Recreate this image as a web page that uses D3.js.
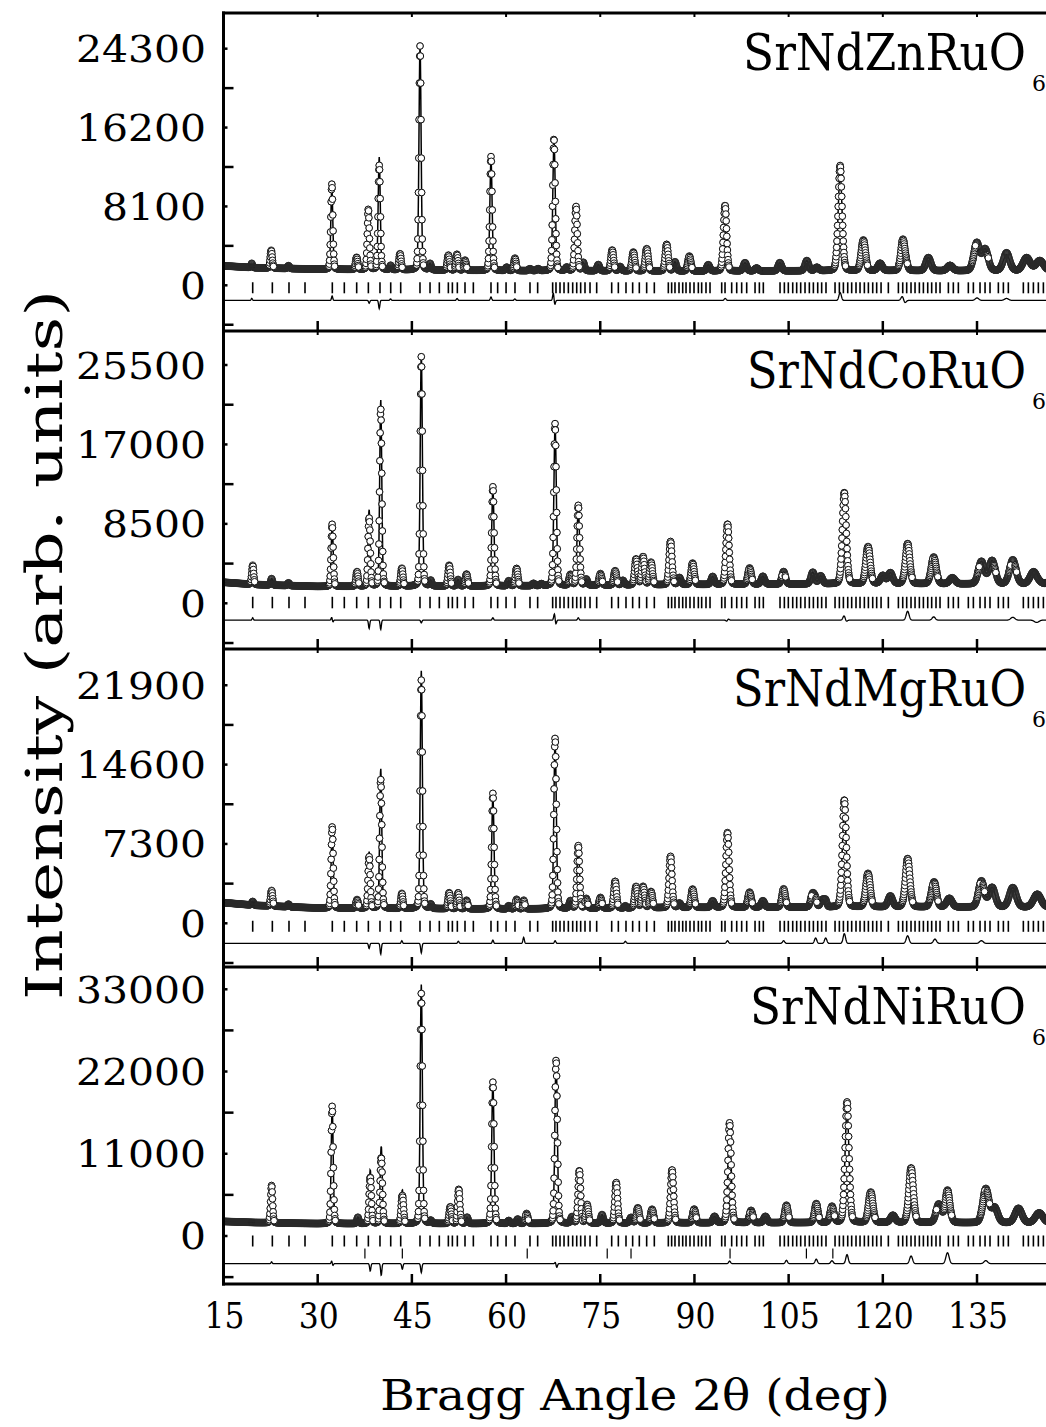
<!DOCTYPE html>
<html><head><meta charset="utf-8">
<script src="https://cdn.jsdelivr.net/npm/d3@7"></script>
<style>body{margin:0;background:#fff}svg{display:block}</style>
</head><body>
<svg id="chart" width="1046" height="1427"></svg>
<script>
// ================= DATA =================
const compounds = ["SrNdZnRuO", "SrNdCoRuO", "SrNdMgRuO", "SrNdNiRuO"];
const subscript = "6";
const xTickValues = [15, 30, 45, 60, 75, 90, 105, 120, 135, 150];
const xDomain = [15, 150];
const yDomains = [[-4693, 27965], [-4890, 29139], [-4020, 25235], [-6421, 35982]];
const yTickSteps = [4050, 4250, 3650, 5500];
const yLabelValues = [
  [0, 8100, 16200, 24300],
  [0, 8500, 17000, 25500],
  [0, 7300, 14600, 21900],
  [0, 11000, 22000, 33000]
];
// background levels [2theta, counts]
const bgZn = [[15,2000],[20,1800],[30,1650],[60,1500],[90,1450],[120,1500],[150,1450]];
const bgCo = [[15,2250],[20,2000],[30,1800],[60,1850],[90,2000],[120,2100],[150,2000]];
const bgMg = [[15,1900],[20,1650],[30,1400],[60,1300],[90,1450],[120,1500],[150,1450]];
const bgNi = [[15,1950],[20,1800],[30,1650],[60,1650],[90,1750],[120,1800],[150,1700]];
// calculated reflections [2theta, height above background]
const peaksZn = [[19.5,250],[22.6,1850],[25.35,300],[32.25,8350],[36.2,1250],[38.07,6300],[39.8,11550],[41.63,300],[43.11,1650],[46.3,23000],[47.9,650],[50.81,1550],[52.18,1450],[53.46,1050],[57.6,11350],[60.1,350],[61.42,1150],[63.81,200],[65.1,200],[67.64,13300],[69.66,350],[71.14,6600],[72.3,850],[74.69,650],[76.9,2150],[78.15,450],[80.27,1950],[82.4,2300],[85.58,2750],[86.9,950],[89.19,1550],[92.2,650],[94.87,6550],[98.05,850],[99.9,300],[103.6,850],[107.9,1050],[109.5,350],[113.2,10000],[116.9,3150],[119.56,750],[123.27,3000],[127.25,1350],[130.7,550],[134.95,2600],[136.3,2200],[139.7,1650],[142.9,1350],[145.0,1050],[148.0,900]];
const peaksCo = [[19.65,1825],[22.66,705],[25.35,300],[32.31,6500],[36.26,1570],[38.19,8180],[40.04,19950],[43.4,1925],[46.5,24850],[48.0,600],[50.94,2245],[52.36,700],[53.7,1285],[57.9,10365],[60.43,550],[61.68,1875],[64.37,250],[65.63,200],[67.81,17100],[70.25,1150],[71.5,8300],[72.77,650],[75.03,1250],[77.37,1550],[78.6,500],[80.7,2785],[81.82,3005],[83.08,2425],[86.19,4625],[87.61,750],[89.71,2305],[92.9,850],[95.26,6465],[98.78,1750],[100.9,850],[104.2,1350],[108.85,1250],[110.1,850],[113.87,9325],[117.64,3965],[120.0,850],[121.2,1150],[123.95,3345],[128.1,2525],[131.07,650],[135.7,2400],[137.4,2500],[140.7,2300],[144.1,1450],[147.5,1200]];
const peaksMg = [[19.65,350],[22.66,1450],[25.35,250],[32.31,7480],[36.26,800],[38.19,5200],[40.04,12860],[43.4,1140],[46.5,21890],[48.0,400],[50.94,1480],[52.36,1280],[53.7,800],[57.9,10340],[60.43,300],[61.68,900],[62.9,300],[67.81,15430],[70.25,700],[71.5,5770],[72.77,900],[75.03,1000],[77.37,2470],[80.7,1980],[81.82,1980],[83.08,1500],[86.19,4720],[87.61,400],[89.71,1700],[92.9,600],[95.26,6630],[98.78,1400],[100.9,600],[104.2,1450],[108.85,1300],[110.4,700],[113.87,8950],[117.64,3090],[121.2,1000],[123.95,3760],[128.1,2000],[130.6,800],[135.7,2150],[137.4,1800],[140.7,1800],[144.6,1200],[148.0,900]];
const peaksNi = [[22.66,4750],[32.31,15540],[36.4,850],[38.37,7180],[40.12,10390],[43.48,4500],[46.5,31980],[48.0,400],[51.11,2250],[52.46,4570],[53.8,850],[57.9,18920],[60.43,400],[61.85,600],[63.27,1350],[67.97,22050],[70.5,850],[71.67,7020],[72.9,2500],[75.28,1150],[77.54,5430],[79.9,750],[80.98,2050],[83.25,1850],[86.43,7100],[89.96,1850],[93.2,850],[95.59,13030],[99.02,1650],[101.3,850],[104.65,1900],[109.4,1950],[111.9,1750],[114.3,14920],[118.07,4060],[121.6,950],[124.5,6290],[128.9,2450],[130.3,2860],[136.4,4130],[137.8,2000],[141.6,1950],[144.9,1350],[148.0,1000]];
// observed minus calculated features [2theta, counts]
const diffZn = [[19.5,200],[32.3,450],[38.2,-300],[39.8,-850],[41.6,150],[52.2,200],[57.6,350],[61.4,150],[67.55,900],[67.72,-600],[94.9,200],[113.2,800],[123.15,500],[123.45,-350],[135.0,250],[139.7,200]];
const diffCo = [[19.65,250],[32.25,350],[32.4,-250],[38.19,-900],[40.04,-1000],[46.5,-300],[57.9,250],[67.72,800],[67.9,-550],[71.5,250],[95.2,-200],[95.35,200],[113.87,550],[114.1,-250],[123.95,950],[128.1,350],[140.7,300],[144.5,-250]];
const diffMg = [[38.19,-470],[40.04,-1000],[43.4,250],[46.5,-870],[52.4,200],[57.9,300],[62.8,550],[67.81,250],[79.0,200],[95.26,250],[104.2,250],[109.3,500],[110.9,500],[113.87,900],[123.95,700],[128.3,400],[135.7,250]];
const diffNi = [[22.66,250],[32.25,400],[32.4,-300],[38.37,-1000],[40.12,-1580],[43.48,-760],[46.5,-1200],[67.9,300],[68.05,-600],[95.6,350],[104.65,450],[109.4,600],[111.9,400],[114.3,1200],[124.5,1030],[130.3,1470],[136.4,400]];
const diffOffsets = [-1550, -1800, -1850, -3700];
// Bragg reflection positions (main phase, all panels) and second phase (Ni panel)
const braggMain = [19.65,22.78,25.43,27.98,32.33,34.24,36.21,38.07,39.92,41.63,43.22,46.29,47.89,49.37,50.81,51.45,52.24,53.46,54.79,57.6,58.66,60.0,61.42,63.81,65.03,67.42,67.95,68.59,69.23,69.92,70.61,71.25,71.88,72.57,73.37,74.43,76.82,77.88,79.1,80.16,81.22,82.39,83.61,85.84,86.37,86.9,87.54,88.13,88.66,89.29,89.93,90.62,91.15,91.84,92.48,94.34,94.87,95.93,96.73,97.52,98.32,99.65,100.34,100.97,103.63,104.32,104.95,105.65,106.28,106.92,107.61,108.3,108.94,109.63,110.26,110.95,112.39,113.08,113.72,114.41,115.04,115.73,116.37,117.06,117.7,118.39,119.02,119.72,120.88,122.48,123.17,123.8,124.49,125.13,125.82,126.46,127.15,127.78,128.47,129.11,130.44,131.23,132.03,133.62,134.42,135.48,136.28,137.07,138.4,139.2,139.99,142.38,143.18,143.98,144.77,145.57];
const braggSecond = [37.52,43.48,63.37,76.11,79.9,95.67,107.83,112.04];
// instrument resolution (Caglioti) and profile mixing, estimated from peak widths
const U = 0.19, V = 0.0, Wc = 0.125, eta = 0.15, stepDeg = 0.05;

const panels = [
  {name: compounds[0], bg: bgZn, peaks: peaksZn, diff: diffZn},
  {name: compounds[1], bg: bgCo, peaks: peaksCo, diff: diffCo},
  {name: compounds[2], bg: bgMg, peaks: peaksMg, diff: diffMg},
  {name: compounds[3], bg: bgNi, peaks: peaksNi, diff: diffNi, second: braggSecond}
];

// ================= LAYOUT =================
const svg = d3.select("#chart");
const FONT = "'DejaVu Serif', serif";
const xLeft = 223.5;
const x = d3.scaleLinear().domain(xDomain).range([xLeft, 1071.2]);
const tops = [13, 331, 649, 967], bottoms = [331, 649, 967, 1284];
const tickRows = [[-3, 8], [-6.5, 5], [-2.5, 8.5], [-0.5, 10.5]];
const secondRow = [12.5, 22.5];

// horizontally scale a text so that its drawn width equals w (anchor kept fixed)
function fit(sel, w, ax, ay, rot) {
  sel.each(function() {
    const L = this.getComputedTextLength();
    const s = w / L;
    const r = rot ? ` rotate(${rot})` : "";
    d3.select(this).attr("x", 0).attr("y", 0)
      .attr("transform", `translate(${ax(this)},${ay(this)})${r} scale(${s},1)`);
  });
}

function fwhm(tt) { const t = Math.tan(tt / 2 * Math.PI / 180); return Math.sqrt(U * t * t + V * t + Wc); }
function pv(xx, c, h, w) { const d = (xx - c) / w; return h * ((1 - eta) * Math.exp(-4 * Math.LN2 * d * d) + eta / (1 + 4 * d * d)); }
function gauss(xx, c, h, w) { const d = (xx - c) / w; return h * Math.exp(-4 * Math.LN2 * d * d); }

const grid = d3.range(xDomain[0], xDomain[1] + 1e-9, stepDeg);

panels.forEach((p, i) => {
  const top = tops[i], bottom = bottoms[i];
  const y = d3.scaleLinear().domain(yDomains[i]).range([bottom, top]);
  const bgScale = d3.scaleLinear().domain(p.bg.map(d => d[0])).range(p.bg.map(d => d[1]));
  const rows = grid.map(t => {
    let calc = bgScale(t);
    p.peaks.forEach(([c, h]) => { calc += pv(t, c, h, fwhm(c)); });
    let dif = 0;
    p.diff.forEach(([c, h]) => { dif += gauss(t, c, h, 0.6 * fwhm(c)); });
    return {t, calc, obs: calc + dif, dif};
  });

  const g = svg.append("g");
  const clipId = "clip" + i;
  svg.append("clipPath").attr("id", clipId).append("rect")
    .attr("x", xLeft).attr("y", top).attr("width", 1046 - xLeft).attr("height", bottom - top);
  const plot = g.append("g").attr("clip-path", `url(#${clipId})`);

  // calculated profile
  plot.append("path").datum(rows)
    .attr("d", d3.line().x(d => x(d.t)).y(d => y(d.calc)))
    .attr("fill", "none").attr("stroke", "#000").attr("stroke-width", 1.5);

  // observed points: rings
  const py = rows.map(d => y(d.obs));
  plot.append("g").selectAll("circle").data(rows).join("circle")
    .attr("cx", d => x(d.t)).attr("cy", d => y(d.obs)).attr("r", 3.3)
    .attr("fill", "none").attr("stroke", "#2a2a2a").attr("stroke-width", 0.8);
  // observed points on steep flanks: open white circles
  const steep = rows.filter((d, k) => {
    const a = k > 0 ? Math.abs(py[k] - py[k - 1]) : 0;
    const b = k < py.length - 1 ? Math.abs(py[k] - py[k + 1]) : 0;
    return Math.max(a, b) > 1.3;
  });
  plot.append("g").selectAll("circle").data(steep).join("circle")
    .attr("cx", d => x(d.t)).attr("cy", d => y(d.obs)).attr("r", 3.3)
    .attr("fill", "#fff").attr("stroke", "#111").attr("stroke-width", 1);

  // Bragg ticks
  const y0 = y(0);
  plot.append("g").selectAll("line").data(braggMain).join("line")
    .attr("x1", d => x(d)).attr("x2", d => x(d))
    .attr("y1", y0 + tickRows[i][0]).attr("y2", y0 + tickRows[i][1])
    .attr("stroke", "#000").attr("stroke-width", 1.6);
  if (p.second) {
    plot.append("g").selectAll("line").data(p.second).join("line")
      .attr("x1", d => x(d)).attr("x2", d => x(d))
      .attr("y1", y0 + secondRow[0]).attr("y2", y0 + secondRow[1])
      .attr("stroke", "#000").attr("stroke-width", 1.2);
  }

  // difference curve
  plot.append("path").datum(rows)
    .attr("d", d3.line().x(d => x(d.t)).y(d => y(diffOffsets[i] + d.dif)))
    .attr("fill", "none").attr("stroke", "#000").attr("stroke-width", 1.3);

  // y ticks
  const step = yTickSteps[i];
  const tv = d3.range(Math.ceil(yDomains[i][0] / step) * step, yDomains[i][1], step);
  const labeled = new Set(yLabelValues[i]);
  g.append("g").selectAll("line").data(tv).join("line")
    .attr("x1", xLeft).attr("x2", d => xLeft + (labeled.has(d) ? 4 : 10))
    .attr("y1", d => y(d)).attr("y2", d => y(d))
    .attr("stroke", "#000").attr("stroke-width", 2.5);
  const yl = g.append("g").selectAll("text").data(yLabelValues[i]).join("text")
    .attr("text-anchor", "end").attr("font-family", FONT).attr("font-size", 37)
    .text(d => d);
  fit(yl, 0, () => 206, () => 0);
  yl.each(function(d) {
    const L = this.getComputedTextLength();
    d3.select(this).attr("transform", `translate(206,${y(d) + 13.5}) scale(${String(d).length * 26 / L},1)`);
  });

  // x ticks on panel bottom (inward) and short ticks at panel top
  g.append("g").selectAll("line").data(xTickValues.slice(1)).join("line")
    .attr("x1", d => x(d)).attr("x2", d => x(d))
    .attr("y1", bottom).attr("y2", bottom - 10)
    .attr("stroke", "#000").attr("stroke-width", 2.5);
  g.append("g").selectAll("line").data(xTickValues.slice(1)).join("line")
    .attr("x1", d => x(d)).attr("x2", d => x(d))
    .attr("y1", top).attr("y2", top + 4)
    .attr("stroke", "#000").attr("stroke-width", 2);

  // compound label with subscript
  const lens = [283, 279, 293, 276];
  const lab = g.append("text").attr("text-anchor", "end")
    .attr("font-family", FONT).attr("font-size", 51).text(p.name);
  const L = lab.node().getComputedTextLength();
  lab.attr("transform", `translate(1026,${top + 57}) scale(${lens[i] / L},1)`);
  g.append("text").attr("x", 1032).attr("y", top + 78)
    .attr("font-family", FONT).attr("font-size", 22).text(subscript);
});

// frame lines
const frame = svg.append("g").attr("stroke", "#000").attr("stroke-width", 3);
frame.append("line").attr("x1", xLeft).attr("x2", xLeft).attr("y1", tops[0] - 1.5).attr("y2", bottoms[3] + 1.5);
[tops[0], ...bottoms].forEach(v => {
  frame.append("line").attr("x1", xLeft - 1.5).attr("x2", 1046).attr("y1", v).attr("y2", v);
});

// bottom x labels
const xl = svg.append("g").selectAll("text").data(xTickValues.filter(v => v <= 135)).join("text")
  .attr("text-anchor", "middle").attr("font-family", FONT).attr("font-size", 36)
  .text(d => d);
xl.each(function(d) {
  const L = this.getComputedTextLength();
  d3.select(this).attr("transform", `translate(${x(d) + 1},1328) scale(${String(d).length * 20 / L},1)`);
});

// axis titles
const xt = svg.append("text").attr("text-anchor", "middle")
  .attr("font-family", FONT).attr("font-size", 42)
  .text("Bragg Angle 2θ (deg)");
xt.attr("transform", `translate(635,1410) scale(${510 / xt.node().getComputedTextLength()},1)`);
const ytl = svg.append("text").attr("text-anchor", "middle")
  .attr("font-family", FONT).attr("font-size", 50)
  .text("Intensity (arb. units)");
ytl.attr("transform", `translate(62,645) rotate(-90) scale(${710 / ytl.node().getComputedTextLength()},1)`);
</script>
</body></html>
